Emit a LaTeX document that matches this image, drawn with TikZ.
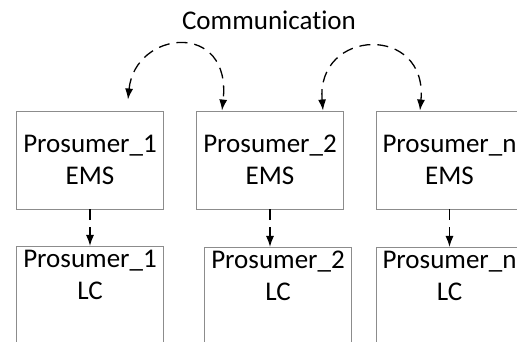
\documentclass[tikz,border=0pt]{standalone}
\usepackage{fontspec}
\setmainfont[RawFeature=-liga]{Carlito}
\usetikzlibrary{arrows.meta,calc}
\tikzset{
	emsbox/.style={draw=black!45, line width=0.9pt, minimum width=147pt, minimum height=98pt, align=center, inner sep=0pt},
	lcbox/.style={draw=black!45, line width=0.9pt, minimum width=147pt, minimum height=130pt, anchor=north},
	lctext/.style={anchor=north, align=center, inner sep=0pt, yshift=-4pt},
	comm/.style={dashed, line width=1.3pt, dash pattern=on 11pt off 7pt, -{Latex[length=11pt,width=8pt]}},
	commboth/.style={comm, {Latex[length=11pt,width=8pt]}-{Latex[length=11pt,width=8pt]}}
}
\begin{document}
\begin{tikzpicture}[x=1pt, y=1pt, font=\fontsize{27}{32}\selectfont]
	\useasboundingbox (0,0) rectangle (517,342);
	\clip (0,0) rectangle (517,342);
	% EMS layer
	\node[emsbox] (ems1) at (90,182) {Prosumer\_1\\EMS};
	\node[emsbox] (ems2) at (270,182) {Prosumer\_2\\EMS};
	\node[emsbox] (ems3) at (449.5,182) {Prosumer\_n\\EMS};
	% LC layer
	\node[lcbox] (lc1) at (90,96) {};
	\node[lcbox] (lc2) at (278,95) {};
	\node[lcbox] (lc3) at (449.5,95) {};
	\node[lctext] (lc1t) at (lc1.north) {Prosumer\_1\\LC};
	\node[lctext] (lc2t) at (lc2.north) {Prosumer\_2\\LC};
	\node[lctext] (lc3t) at (lc3.north) {Prosumer\_n\\LC};
	\node (commlabel) at (269,322) {Communication};
	% arc ends
	\coordinate (c1a) at ($(ems1.north)+(38,11)$);
	\coordinate (c1b) at ($(ems2.north)+(-48,0)$);
	\coordinate (c2a) at ($(ems2.north)+(53,0)$);
	\coordinate (c2b) at ($(ems3.north)+(-29.5,0)$);
	\draw[commboth] (c1a) .. controls (135,312) and (232,322) .. (c1b);
	\draw[commboth] (c2a) .. controls (316,314) and (428,318) .. (c2b);
	% EMS to LC
	\draw[comm] (ems1.south) -- (lc1.north);
	\draw[comm] (ems2.south) -- (ems2.south |- lc2.north);
	\draw[comm] (ems3.south) -- (lc3.north);
\end{tikzpicture}
\end{document}
